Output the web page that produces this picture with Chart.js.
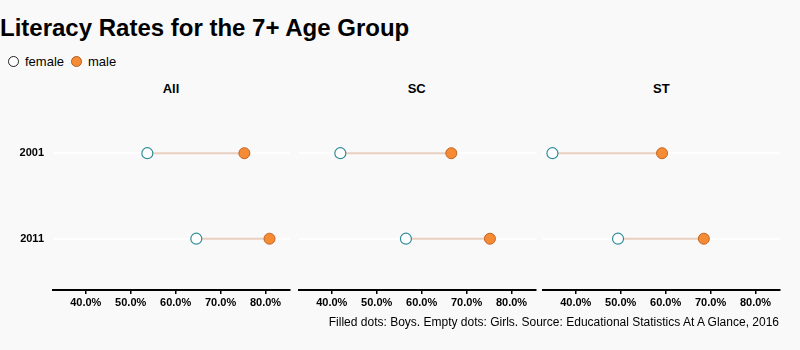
<!DOCTYPE html>
<html>
<head>
<meta charset="utf-8">
<script src="https://cdn.jsdelivr.net/npm/chart.js@4/dist/chart.umd.min.js"></script>
<style>
  html, body { margin: 0; padding: 0; background: #f9f9f9; }
  body { width: 800px; height: 350px; position: relative; overflow: hidden;
         font-family: "Liberation Sans", Arial, Helvetica, sans-serif; color: #000; }
  .titulo { position: absolute; left: 0; top: 14px; font-size: 24px; font-weight: bold; white-space: nowrap; }
  .legenda { position: absolute; left: 8px; top: 54px; font-size: 13px; display: flex; align-items: center; }
  .legenda .dot { width: 11px; height: 11px; border-radius: 50%; display: inline-block; margin-right: 6px; box-sizing: border-box; }
  .legenda .f { background: #fff; border: 1px solid #222; }
  .legenda .m { background: #f68b36; border: 1px solid #b85a1c; margin-left: 7px; }
  .painel-nome { position: absolute; top: 81px; width: 236px; text-align: center; font-size: 13px; font-weight: bold; }
  .painel { position: absolute; top: 100px; width: 296px; height: 220px; }
  .fonte { position: absolute; right: 21px; top: 315px; font-size: 12px; white-space: nowrap; }
</style>
</head>
<body>
<div class="titulo">Literacy Rates for the 7+ Age Group</div>
<div class="legenda"><span class="dot f"></span>female <span class="dot m"></span>male</div>
<div id="nomes"></div>
<div id="paineis"></div>
<div class="fonte">Filled dots: Boys. Empty dots: Girls. Source: Educational Statistics At A Glance, 2016</div>

<script>
// ---- dados ----
const panels = ["All", "SC", "ST"];
const years = ["2001", "2011"];
const femaleAll = [53.7, 64.6];
const maleAll = [75.3, 80.9];
const femaleSC = [41.9, 56.5];
const maleSC = [66.6, 75.2];
const femaleST = [34.8, 49.4];
const maleST = [59.2, 68.5];
const xTicks = [40, 50, 60, 70, 80];

const FEMALE = [femaleAll, femaleSC, femaleST];
const MALE = [maleAll, maleSC, maleST];

const CORES = {
  teal: "#2f8c9b", laranja: "#f68b36", laranjaBorda: "#c4621f", conector: "#e9cfc0",
};

const AREA_LEFT = [53, 298.7, 543.3]; // borda esquerda de cada área
const Y_AXIS_W = 53;

panels.forEach((nome, i) => {
  const left = AREA_LEFT[i] - Y_AXIS_W;

  const n = document.createElement("div");
  n.className = "painel-nome";
  n.style.left = AREA_LEFT[i] + "px";
  n.textContent = nome;
  document.getElementById("nomes").appendChild(n);

  const box = document.createElement("div");
  box.className = "painel";
  box.style.left = left + "px";
  box.innerHTML = `<canvas></canvas>`;
  document.getElementById("paineis").appendChild(box);

  const fem = FEMALE[i], mal = MALE[i];
  const conectores = years.map((y, k) => ({
    type: "line",
    data: [{ x: fem[k], y: k }, { x: mal[k], y: k }],
    borderColor: CORES.conector, borderWidth: 2, pointRadius: 0, order: 3,
  }));

  new Chart(box.querySelector("canvas"), {
    type: "scatter",
    data: {
      datasets: [
        {
          label: "female", data: fem.map((v, k) => ({ x: v, y: k })),
          backgroundColor: "#ffffff", borderColor: CORES.teal, borderWidth: 1.2,
          pointRadius: 5.5, order: 1,
        },
        {
          label: "male", data: mal.map((v, k) => ({ x: v, y: k })),
          backgroundColor: CORES.laranja, borderColor: CORES.laranjaBorda, borderWidth: 1,
          pointRadius: 5.5, order: 1,
        },
        ...conectores,
      ],
    },
    options: {
      responsive: true, maintainAspectRatio: false, animation: false,
      layout: { padding: { top: 3.4, right: 3, left: 0, bottom: 0 } },
      plugins: { legend: { display: false }, tooltip: { enabled: false } },
      scales: {
        x: {
          type: "linear", min: 32.7, max: 85.3,
          afterBuildTicks: (s) => { s.ticks = xTicks.map((v) => ({ value: v })); },
          afterFit: (s) => { s.height = 30; },
          border: { display: true, color: "#000", width: 2 },
          grid: { drawOnChartArea: false, drawTicks: true, tickLength: 4, color: "#000", lineWidth: 1.5 },
          ticks: {
            padding: 2, color: "#000",
            font: { family: "'Liberation Sans', Arial", size: 11, weight: "bold" },
            callback: (v) => v.toFixed(1) + "%",
          },
        },
        y: {
          type: "linear", min: -0.44, max: 1.6, reverse: true,
          afterBuildTicks: (s) => { s.ticks = years.map((_, k) => ({ value: k })); },
          afterFit: (s) => { s.width = Y_AXIS_W; },
          border: { display: false },
          grid: { drawTicks: false, color: "#ffffff", lineWidth: 2 },
          ticks: {
            padding: 9, color: i === 0 ? "#000" : "rgba(0,0,0,0)",
            font: { family: "'Liberation Sans', Arial", size: 11, weight: "bold" },
            callback: (v) => years[v],
          },
        },
      },
    },
  });
});
</script>
</body>
</html>
